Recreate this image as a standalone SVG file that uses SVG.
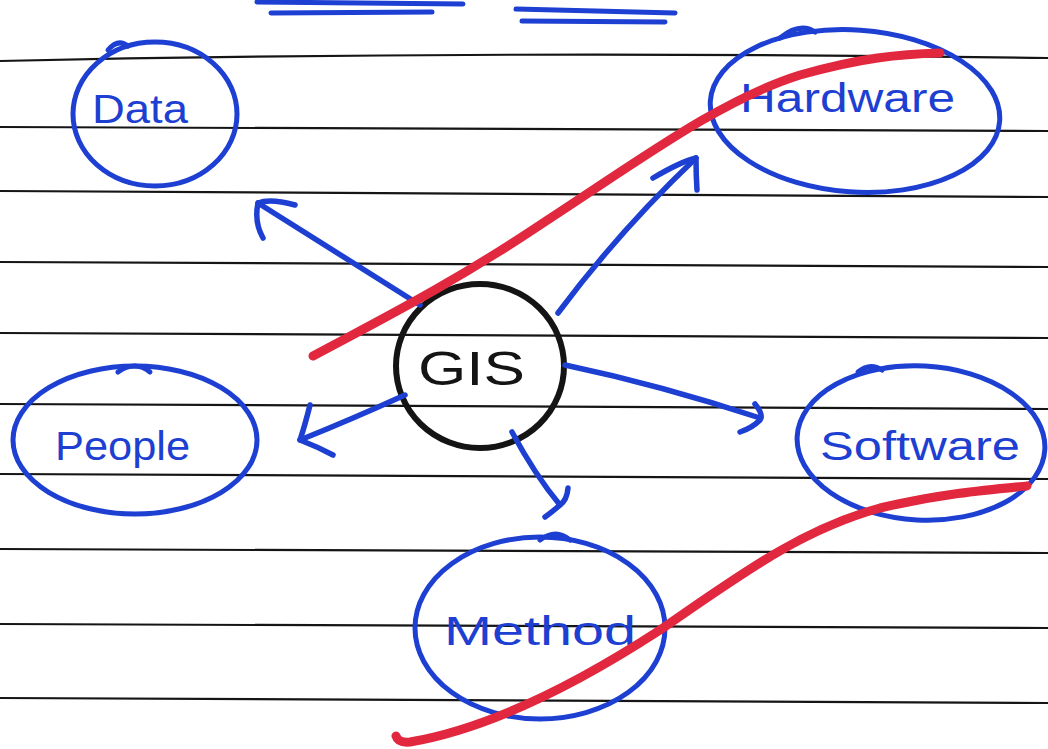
<svg xmlns="http://www.w3.org/2000/svg" width="1048" height="749" viewBox="0 0 1048 749">
<defs>
<style>
.rule{stroke:#151515;stroke-width:2.2;fill:none}
.node{fill:none;stroke:#1d3fd2;stroke-width:5;stroke-linecap:round}
.hub{fill:none;stroke:#141414;stroke-width:6}
.lbl{font-family:"Liberation Sans","DejaVu Sans",sans-serif;fill:#1d3fd2;font-size:40px}
.hubl{font-family:"Liberation Sans","DejaVu Sans",sans-serif;fill:#141414;font-size:48px}
.arr{fill:none;stroke:#1d3fd2;stroke-width:5.5;stroke-linecap:round;stroke-linejoin:round}
.red{fill:none;stroke:#e1283e;stroke-width:9;stroke-linecap:round}
.ul{fill:none;stroke:#1d3fd2;stroke-width:5;stroke-linecap:round}
</style>
</defs>
<rect width="1048" height="749" fill="#ffffff"/>
<g id="paper">
<path class="rule" d="M0 61 Q500 50 1048 58"/>
<path class="rule" d="M0 127 L1048 131"/>
<path class="rule" d="M0 191 L1048 197"/>
<path class="rule" d="M0 262 L1048 267"/>
<path class="rule" d="M0 333 L1048 338"/>
<path class="rule" d="M0 404 L1048 409"/>
<path class="rule" d="M0 474 L1048 479"/>
<path class="rule" d="M0 549 L1048 553"/>
<path class="rule" d="M0 624 L1048 628"/>
<path class="rule" d="M0 698 L1048 703"/>
<path class="ul" d="M257 2 L463 4"/>
<path class="ul" d="M271 13 L432 12"/>
<path class="ul" d="M516 9 L675 13"/>
<path class="ul" d="M522 21 L665 22"/>
</g>
<g id="node-data">
<ellipse class="node" cx="155" cy="114" rx="82" ry="72"/>
<path class="node" d="M108 50 Q118 38 128 46"/>
<text class="lbl" x="92" y="123" textLength="96" lengthAdjust="spacingAndGlyphs" font-size="36">Data</text>
</g>
<g id="node-hardware">
<ellipse class="node" cx="855" cy="111" rx="145" ry="81" transform="rotate(4 855 111)"/>
<path class="node" d="M780 38 Q800 22 815 32"/>
<text class="lbl" x="740" y="112" textLength="215" lengthAdjust="spacingAndGlyphs">Hardware</text>
</g>
<g id="node-gis">
<ellipse class="hub" cx="480" cy="366" rx="84" ry="82"/>
<text class="hubl" x="418" y="385" textLength="107" lengthAdjust="spacingAndGlyphs">GIS</text>
</g>
<g id="node-people">
<ellipse class="node" cx="135" cy="440" rx="122" ry="74"/>
<path class="node" d="M118 372 Q135 360 150 372"/>
<text class="lbl" x="55" y="460" textLength="135" lengthAdjust="spacingAndGlyphs">People</text>
</g>
<g id="node-software">
<ellipse class="node" cx="921" cy="443" rx="124" ry="77" transform="rotate(3 921 443)"/>
<path class="node" d="M858 372 Q870 362 882 370"/>
<text class="lbl" x="820" y="460" textLength="200" lengthAdjust="spacingAndGlyphs">Software</text>
</g>
<g id="node-method">
<ellipse class="node" cx="540" cy="628" rx="125" ry="91"/>
<path class="node" d="M540 540 Q556 528 570 540"/>
<text class="lbl" x="444" y="645" textLength="192" lengthAdjust="spacingAndGlyphs">Method</text>
</g>
<g id="connectors">
<path class="arr" d="M420 305 L258 203"/>
<path class="arr" d="M295 205 Q270 198 258 203 Q254 222 263 238"/>
<path class="arr" d="M558 313 Q620 230 696 158"/>
<path class="arr" d="M653 178 Q680 162 696 158 Q696 175 697 190"/>
<path class="arr" d="M405 395 Q350 420 300 440"/>
<path class="arr" d="M310 405 Q305 425 300 440 Q318 447 333 455"/>
<path class="arr" d="M512 432 Q535 475 560 505"/>
<path class="arr" d="M568 488 Q567 500 560 505 Q552 512 545 517"/>
<path class="arr" d="M565 365 Q660 385 760 418"/>
<path class="arr" d="M755 404 Q764 415 760 420 Q752 428 740 432"/>
</g>
<g id="strokes">
<path class="red" d="M313 356 C380 320 450 285 540 225 C640 160 720 100 800 75 C860 58 900 54 940 53"/>
<path class="red" d="M396 736 Q398 743 410 742 C480 730 560 695 660 630 C740 575 800 530 880 508 C940 494 985 490 1027 486"/>
</g>
</svg>
